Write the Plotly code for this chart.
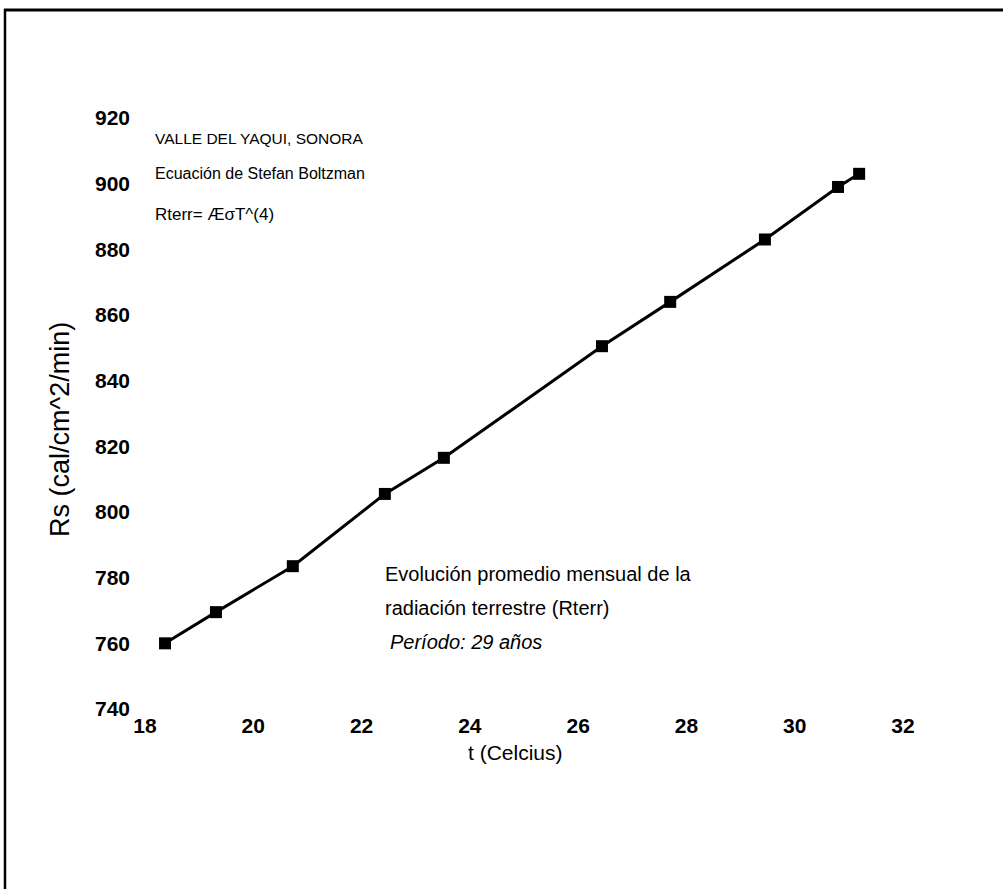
import plotly.graph_objects as go

# Data
temp_c = [18.37, 19.31, 20.73, 22.43, 23.52, 26.44, 27.70, 29.45, 30.80, 31.19]
rterr = [760.0, 769.5, 783.5, 805.5, 816.5, 850.5, 864.0, 883.0, 899.0, 903.0]

x_ticks = [18, 20, 22, 24, 26, 28, 30, 32]
y_ticks = [740, 760, 780, 800, 820, 840, 860, 880, 900, 920]

W, H = 1003, 889
L, R, T, B = 145, 100, 118, 180
PW, PH = W - L - R, H - T - B


def px(xp):
    return (xp - L) / PW


def py(yp):
    return (H - B - yp) / PH


FONT = "Liberation Sans, Arial, sans-serif"

fig = go.Figure()
fig.add_trace(go.Scatter(
    x=temp_c, y=rterr, mode="lines+markers",
    line=dict(color="black", width=3),
    marker=dict(symbol="square", size=12, color="black"),
    showlegend=False,
))

fig.update_layout(
    width=W, height=H,
    margin=dict(l=L, r=R, t=T, b=B, pad=0),
    paper_bgcolor="white", plot_bgcolor="white",
    font=dict(family=FONT, color="black"),
    xaxis=dict(range=[18, 32], tickvals=x_ticks, showgrid=False, zeroline=False,
               showline=False, ticks="", tickfont=dict(size=21, weight="bold"),
               ticklabelstandoff=2),
    yaxis=dict(range=[740, 920], tickvals=y_ticks, showgrid=False, zeroline=False,
               showline=False, ticks="", tickfont=dict(size=21, weight="bold"),
               ticklabelstandoff=14),
)

ann = [
    dict(text="VALLE DEL YAQUI, SONORA", x=px(153), y=py(138), size=15.5),
    dict(text="Ecuación de Stefan Boltzman", x=px(153), y=py(173), size=16),
    dict(text="Rterr= ÆσT^(4)", x=px(153), y=py(214), size=17),
    dict(text="Evolución promedio mensual de la", x=px(383), y=py(574), size=20),
    dict(text="radiación terrestre (Rterr)", x=px(383), y=py(608), size=20),
    dict(text="<i>Período: 29 años</i>", x=px(388), y=py(642), size=20),
]
for a in ann:
    fig.add_annotation(text=a["text"], x=a["x"], y=a["y"], xref="paper", yref="paper",
                       xanchor="left", yanchor="middle", showarrow=False,
                       font=dict(size=a["size"], family=FONT, color="black"))

# axis titles
fig.add_annotation(text="Rs (cal/cm^2/min)", x=px(60), y=py(430), xref="paper", yref="paper",
                   textangle=-90, showarrow=False, xanchor="center", yanchor="middle",
                   font=dict(size=27, family=FONT, color="black"))
fig.add_annotation(text="t (Celcius)", x=px(515), y=py(752), xref="paper", yref="paper",
                   showarrow=False, xanchor="center", yanchor="middle",
                   font=dict(size=21, family=FONT, color="black"))

# scanned page frame (top and left edges)
fig.add_shape(type="line", xref="paper", yref="paper", x0=px(4), x1=px(1003), y0=py(10), y1=py(10),
              line=dict(color="black", width=3))
fig.add_shape(type="line", xref="paper", yref="paper", x0=px(5), x1=px(5), y0=py(9), y1=py(889),
              line=dict(color="black", width=2.5))

fig.write_html("out.html")
